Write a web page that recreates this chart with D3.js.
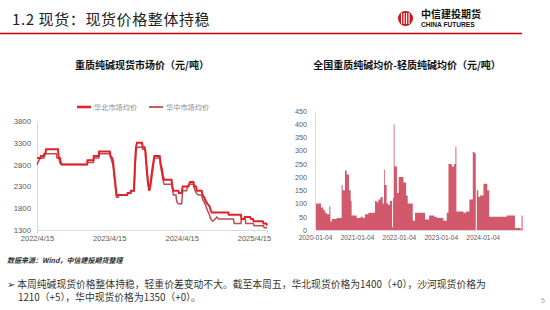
<!DOCTYPE html>
<html>
<head>
<meta charset="utf-8">
<script src="https://cdn.jsdelivr.net/npm/d3@7"></script>
<style>
  body { margin: 0; background: #fff; }
  svg { font-family: "Liberation Sans", "Noto Sans CJK SC", sans-serif; }
</style>
</head>
<body>
<svg id="page" width="550" height="310"></svg>
<script>
// ---- left chart: spot prices (元/吨)
const seriesNames = ["华北市场均价", "华中市场均价"];

const northDates = [
  "2022-04-15", "2022-05-02", "2022-05-05", "2022-05-19", "2022-05-22", "2022-05-27", "2022-05-31", "2022-07-30",
  "2022-08-03", "2022-08-09", "2022-08-13", "2022-08-18", "2022-12-24", "2022-12-26", "2023-01-25", "2023-01-27",
  "2023-02-21", "2023-02-23", "2023-04-18", "2023-04-21", "2023-04-30", "2023-05-05", "2023-05-10", "2023-05-15",
  "2023-05-22", "2023-07-15", "2023-07-17", "2023-08-01", "2023-08-02", "2023-08-18", "2023-08-23", "2023-08-28",
  "2023-09-02", "2023-09-27", "2023-10-01", "2023-10-11", "2023-10-14", "2023-10-21", "2023-10-27", "2023-11-03",
  "2023-11-10", "2023-11-20", "2023-11-29", "2023-12-26", "2023-12-31", "2024-01-06", "2024-01-11", "2024-01-17",
  "2024-02-24", "2024-02-28", "2024-03-04", "2024-03-29", "2024-04-01", "2024-04-15", "2024-04-20", "2024-05-19",
  "2024-05-22", "2024-05-27", "2024-06-13", "2024-06-18", "2024-06-27", "2024-06-30", "2024-07-25", "2024-07-30",
  "2024-08-06", "2024-08-16", "2024-08-23", "2024-09-02", "2024-09-09", "2024-09-14", "2024-12-07", "2024-12-09",
  "2025-02-08", "2025-02-11", "2025-02-25", "2025-02-28", "2025-03-27", "2025-03-31", "2025-04-10", "2025-04-13",
  "2025-05-30", "2025-06-02", "2025-06-16", "2025-06-20"
];
const northValues = [
  2950, 2950, 3000, 3000, 3050, 3050, 3150, 3150,
  2950, 2950, 2850, 2800, 2800, 2900, 2900, 3000,
  3000, 3100, 3100, 3000, 2950, 2850, 2600, 2400,
  2100, 2100, 2150, 2150, 2200, 2200, 2800, 3200,
  3300, 3300, 3200, 3200, 3100, 2700, 2400, 2200,
  2400, 2750, 3000, 3000, 2800, 2700, 2550, 2450,
  2450, 2300, 2200, 2200, 2150, 2150, 2300, 2300,
  2350, 2400, 2400, 2300, 2300, 2200, 2200, 2100,
  2050, 1950, 1900, 1850, 1750, 1700, 1700, 1650,
  1650, 1550, 1550, 1600, 1600, 1550, 1550, 1500,
  1500, 1450, 1450, 1400
];

const centralDates = [
  "2022-04-15", "2022-04-20", "2022-04-25", "2022-05-02", "2022-05-20", "2022-05-26", "2022-07-22", "2022-07-25",
  "2022-08-04", "2022-08-08", "2022-08-15", "2022-12-24", "2022-12-28", "2023-01-25", "2023-01-27", "2023-02-21",
  "2023-02-23", "2023-04-18", "2023-04-23", "2023-04-30", "2023-05-05", "2023-05-12", "2023-05-17", "2023-05-22",
  "2023-05-30", "2023-06-03", "2023-07-15", "2023-07-17", "2023-08-01", "2023-08-02", "2023-08-18", "2023-08-23",
  "2023-08-28", "2023-09-02", "2023-09-27", "2023-10-01", "2023-10-14", "2023-10-17", "2023-10-24", "2023-10-31",
  "2023-11-03", "2023-11-10", "2023-11-20", "2023-11-29", "2023-12-26", "2023-12-31", "2024-01-06", "2024-01-11",
  "2024-01-17", "2024-02-24", "2024-02-28", "2024-03-04", "2024-03-17", "2024-03-21", "2024-03-29", "2024-04-15",
  "2024-04-20", "2024-05-10", "2024-05-14", "2024-05-27", "2024-06-13", "2024-06-18", "2024-06-27", "2024-07-08",
  "2024-07-25", "2024-07-30", "2024-08-11", "2024-08-23", "2024-09-02", "2024-09-09", "2024-09-19", "2024-10-01",
  "2024-10-09", "2024-10-18", "2025-01-02", "2025-01-05", "2025-02-08", "2025-02-11", "2025-03-02", "2025-03-05",
  "2025-04-13", "2025-04-16", "2025-06-02", "2025-06-06", "2025-06-20"
];
const centralValues = [
  2800, 2850, 2900, 2950, 2950, 3050, 3050, 2950,
  2950, 2850, 2800, 2800, 2850, 2850, 2950, 2950,
  3050, 3050, 2950, 2850, 2750, 2450, 2250, 2050,
  2050, 2100, 2100, 2150, 2150, 2200, 2200, 2700,
  3100, 3200, 3200, 3150, 3150, 3050, 2600, 2300,
  2200, 2300, 2650, 2950, 2950, 2750, 2600, 2450,
  2350, 2350, 2250, 2100, 2100, 1950, 1900, 1900,
  2200, 2200, 2300, 2350, 2350, 2250, 2150, 2100,
  2100, 2000, 1900, 1750, 1650, 1550, 1500, 1550,
  1600, 1550, 1550, 1450, 1450, 1550, 1550, 1450,
  1450, 1400, 1400, 1350, 1350
];

const leftYTicks = [1300, 1800, 2300, 2800, 3300, 3800];
const leftXTicks = ["2022-04-15", "2023-04-15", "2024-04-15", "2025-04-15"];

// ---- right chart: heavy minus light soda ash (元/吨), runs of equal weekly values
const spreadStarts = [
  "2020-01-04", "2020-02-25", "2020-03-17", "2020-03-31", "2020-04-15", "2020-05-08", "2020-05-17", "2020-05-31",
  "2020-07-11", "2020-08-23", "2020-09-01", "2020-09-21", "2020-10-06", "2020-10-26", "2020-11-10", "2020-11-18",
  "2021-01-01", "2021-02-05", "2021-02-22", "2021-03-15", "2021-04-13", "2021-06-10", "2021-06-24", "2021-07-09",
  "2021-07-29", "2021-08-16", "2021-08-27", "2021-09-03", "2021-09-19", "2021-10-04", "2021-10-18", "2021-11-06",
  "2021-11-14", "2021-11-20", "2021-11-27", "2021-12-18", "2022-01-02", "2022-02-13", "2022-03-08", "2022-03-22",
  "2022-05-05", "2022-05-25", "2022-08-20", "2022-09-24", "2022-11-07", "2022-11-30", "2023-01-27", "2023-02-25",
  "2023-03-12", "2023-04-10", "2023-04-30", "2023-05-12", "2023-05-20", "2023-07-20", "2023-08-13", "2023-09-10",
  "2023-10-10", "2023-10-24", "2023-11-05", "2023-11-14", "2023-11-27", "2023-12-11", "2024-01-11", "2024-02-13",
  "2024-03-01", "2024-07-31", "2024-10-11", "2024-11-30", "2024-12-08"
];
const spreadValues = [
  100, 85, 75, 65, 60, 90, 32, 42,
  45, 170, 150, 225, 210, 150, 110, 55,
  45, 50, 45, 60, 65, 110, 105, 115,
  125, 100, 228, 170, 100, 95, 110, 10,
  120, 400, 240, 140, 200, 180, 130, 100,
  35, 65, 40, 55, 50, 45, 35, 65,
  250, 240, 250, 315, 70, 65, 70, 115,
  295, 290, 0, 150, 125, 130, 175, 150,
  50, 55, 8, 3, 55
];
const spreadEnd = "2024-12-17";
const rightYTicks = [0, 50, 100, 150, 200, 250, 300, 350, 400, 450];
const rightXTicks = ["2020-01-04", "2021-01-04", "2022-01-04", "2023-01-04", "2024-01-04"];

const parse = d3.timeParse("%Y-%m-%d");
const cjk = "'Noto Sans CJK SC', sans-serif";
const svg = d3.select("#page");

// header
svg.append("text")
  .attr("x", 12).attr("y", 25)
  .attr("font-family", cjk).attr("font-size", 15).attr("fill", "#222")
  .attr("letter-spacing", 0.6)
  .text("1.2 现货：现货价格整体持稳");

svg.append("line")
  .attr("x1", 0).attr("x2", 522).attr("y1", 33.5).attr("y2", 33.5)
  .attr("stroke", "#c00000").attr("stroke-width", 1.5);

const logo = svg.append("g");
logo.append("circle").attr("cx", 405.5).attr("cy", 18.5).attr("r", 7.5).attr("fill", "#c8161d");
[-4, -1.5, 1, 3.5].forEach((dx) => {
  logo.append("rect").attr("x", 405.5 + dx - 0.5).attr("y", 13).attr("width", 1.1).attr("height", 11).attr("fill", "#fff");
});
logo.append("text").attr("x", 421).attr("y", 17.5)
  .attr("font-family", cjk).attr("font-weight", 700).attr("font-size", 10).attr("fill", "#111")
  .text("中信建投期货");
logo.append("text").attr("x", 421).attr("y", 26.5)
  .attr("font-weight", 700).attr("font-size", 6.6).attr("fill", "#111")
  .text("CHINA FUTURES");

// ---- left chart
const xL = d3.scaleTime()
  .domain([parse("2022-04-15"), parse("2025-06-20")])
  .range([37, 267]);
const yL = d3.scaleLinear().domain([1300, 3800]).range([230, 121]);

svg.append("text")
  .attr("x", 142).attr("y", 69).attr("text-anchor", "middle")
  .attr("font-family", cjk).attr("font-weight", 700).attr("font-size", 10).attr("fill", "#111")
  .text("重质纯碱现货市场价（元/吨）");

const yAxisL = svg.append("g")
  .attr("transform", "translate(37,0)")
  .call(d3.axisLeft(yL).tickValues(leftYTicks).tickFormat(d3.format("d")).tickSize(0).tickPadding(6));
yAxisL.select(".domain").attr("stroke", "#d9d9d9");

const xAxisL = svg.append("g")
  .attr("transform", "translate(0,230)")
  .call(d3.axisBottom(xL).tickValues(leftXTicks.map(parse)).tickFormat(d3.timeFormat("%Y/%-m/%-d")).tickSize(3).tickPadding(3));
xAxisL.select(".domain").attr("stroke", "#d9d9d9");

const lineL = d3.line().x((d) => xL(d.date)).y((d) => yL(d.value));
const northData = northDates.map((d, i) => ({ date: parse(d), value: northValues[i] }));
const centralData = centralDates.map((d, i) => ({ date: parse(d), value: centralValues[i] }));

svg.append("path").datum(centralData)
  .attr("d", lineL).attr("fill", "none")
  .attr("stroke", "#bf4a50").attr("stroke-width", 1.5);
svg.append("path").datum(northData)
  .attr("d", lineL).attr("fill", "none")
  .attr("stroke", "#e0232b").attr("stroke-width", 2);

// legend
const legendL = [
  { name: seriesNames[0], color: "#e0232b", w: 2.6, x: 77 },
  { name: seriesNames[1], color: "#bf4a50", w: 1.8, x: 149 },
];
legendL.forEach((l) => {
  svg.append("line").attr("x1", l.x).attr("x2", l.x + 14).attr("y1", 107).attr("y2", 107)
    .attr("stroke", l.color).attr("stroke-width", l.w);
  svg.append("text").attr("x", l.x + 17).attr("y", 109.5)
    .attr("font-family", cjk).attr("font-size", 7.2).attr("fill", "#8c8c8c")
    .text(l.name);
});

// ---- right chart
const xR = d3.scaleTime()
  .domain([parse("2020-01-04"), parse(spreadEnd)])
  .range([315, 522.6]);
const yR = d3.scaleLinear().domain([0, 450]).range([230, 111]);

svg.append("text")
  .attr("x", 407).attr("y", 69).attr("text-anchor", "middle")
  .attr("font-family", cjk).attr("font-weight", 700).attr("font-size", 10).attr("fill", "#111")
  .text("全国重质纯碱均价-轻质纯碱均价（元/吨）");

// weekly bars sit edge to edge, so each run is one step of a filled step area
const spreadData = spreadStarts.map((d, i) => ({ date: parse(d), value: spreadValues[i] }));
spreadData.push({ date: parse(spreadEnd), value: spreadValues[spreadValues.length - 1] });

const barArea = d3.area()
  .x((d) => xR(d.date))
  .y0(yR(0))
  .y1((d) => yR(d.value))
  .curve(d3.curveStepAfter);

svg.append("path").datum(spreadData)
  .attr("d", barArea)
  .attr("fill", "#d2596b");

const yAxisR = svg.append("g")
  .attr("transform", "translate(315,0)")
  .call(d3.axisLeft(yR).tickValues(rightYTicks).tickSize(0).tickPadding(8));
yAxisR.select(".domain").attr("stroke", "#d9d9d9");

const xAxisR = svg.append("g")
  .attr("transform", "translate(0,230)")
  .call(d3.axisBottom(xR).tickValues(rightXTicks.map(parse)).tickFormat(d3.timeFormat("%Y-%m-%d")).tickSize(0).tickPadding(5));
xAxisR.select(".domain").attr("stroke", "#d9d9d9");

// axis text styling
[yAxisL, xAxisL, yAxisR, xAxisR].forEach((g) => {
  g.selectAll(".tick text").attr("fill", "#595959").attr("font-family", "'Liberation Sans', sans-serif");
  g.selectAll(".tick line").attr("stroke", "#d9d9d9");
});
yAxisL.selectAll(".tick text").attr("font-size", 7.8);
xAxisL.selectAll(".tick text").attr("font-size", 7.5);
yAxisR.selectAll(".tick text").attr("font-size", 7.2);
xAxisR.selectAll(".tick text").attr("font-size", 6.6);

// ---- notes
svg.append("text").attr("x", 7).attr("y", 263)
  .attr("font-family", cjk).attr("font-size", 7).attr("font-weight", 700)
  .attr("font-style", "italic").attr("fill", "#333")
  .text("数据来源：Wind，中信建投期货整理");

svg.append("text").attr("x", 7).attr("y", 288)
  .attr("font-family", cjk).attr("font-size", 9.8).attr("fill", "#333")
  .text("➢ 本周纯碱现货价格整体持稳，轻重价差变动不大。截至本周五，华北现货价格为1400（+0），沙河现货价格为");
svg.append("text").attr("x", 18).attr("y", 301)
  .attr("font-family", cjk).attr("font-size", 9.8).attr("fill", "#333")
  .text("1210（+5），华中现货价格为1350（+0）。");

svg.append("text").attr("x", 541).attr("y", 303)
  .attr("font-size", 7).attr("fill", "#a6a6a6")
  .text("5");
</script>
</body>
</html>
